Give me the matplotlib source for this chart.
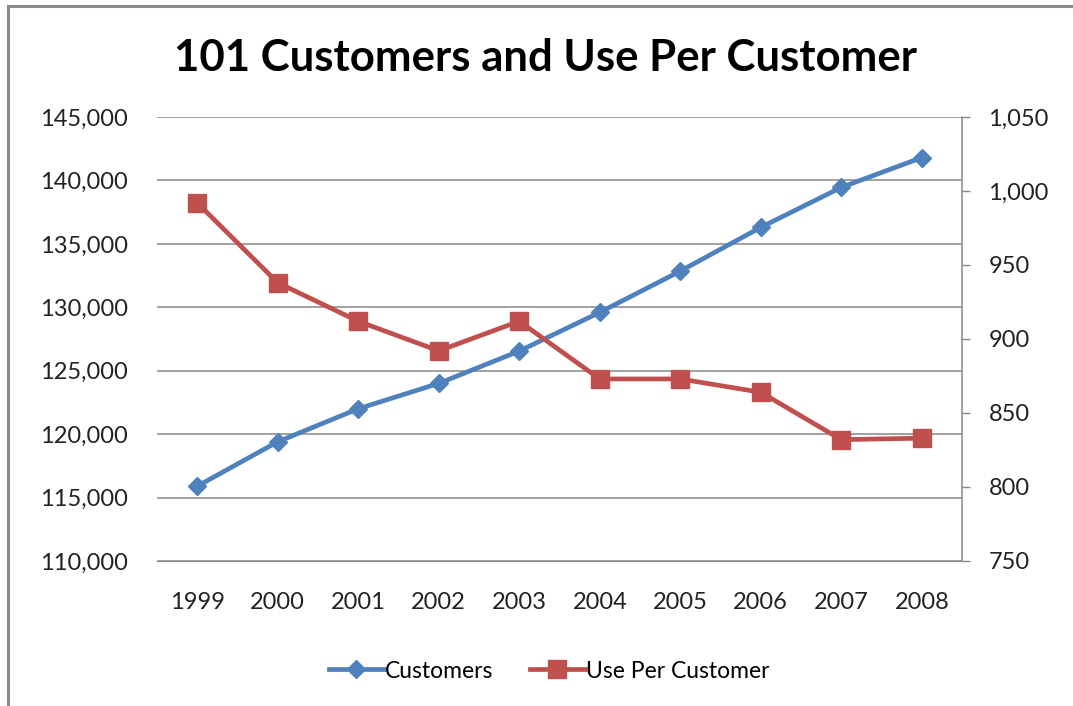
import matplotlib.pyplot as plt
from matplotlib.ticker import FuncFormatter
from matplotlib.lines import Line2D

years = ['1999', '2000', '2001', '2002', '2003', '2004', '2005', '2006', '2007', '2008']
customers = [115900, 119400, 122000, 124000, 126550, 129600, 132850, 136300, 139450, 141800]
use_per_customer = [992, 938, 912, 892, 912, 873, 873, 864, 832, 833]

blue = '#4F81BD'
red = '#C0504D'
grid_col = '#888888'
font = ['Lato', 'DejaVu Sans']

W, H = 1073, 706
fig = plt.figure(figsize=(W / 100, H / 100), dpi=100)

# chart frame (cut off on right/bottom in the reference)
fig.add_artist(Line2D([8 / W, 8 / W], [0, 1 - 6 / H], color='#8a8a8a', lw=2.2, transform=fig.transFigure))
fig.add_artist(Line2D([8 / W, 1], [1 - 6 / H, 1 - 6 / H], color='#8a8a8a', lw=2.2, transform=fig.transFigure))

left, right, top, bottom = 157, 962, 117, 561
ax = fig.add_axes([left / W, 1 - bottom / H, (right - left) / W, (bottom - top) / H])
ax2 = ax.twinx()

x = list(range(len(years)))

ax.plot(x, customers, color=blue, lw=3.4, marker='D', markersize=9, label='Customers', zorder=3)
ax2.plot(x, use_per_customer, color=red, lw=3.4, marker='s', markersize=12.5, label='Use Per Customer', zorder=3)

ax.set_xlim(-0.5, len(years) - 0.5)
ax.set_ylim(110000, 145000)
ax.set_yticks(range(110000, 145001, 5000))
ax.yaxis.set_major_formatter(FuncFormatter(lambda v, p: f'{int(v):,}'))
ax2.set_ylim(750, 1050)
ax2.set_yticks(range(750, 1051, 50))
ax2.yaxis.set_major_formatter(FuncFormatter(lambda v, p: f'{int(v):,}'))

ax.set_xticks(x)
ax.set_xticklabels(years)
ax.grid(axis='y', color=grid_col, lw=1.1)
ax.set_axisbelow(True)

for a in (ax, ax2):
    for s in a.spines.values():
        s.set_visible(False)
ax.spines['bottom'].set_visible(True)
ax.spines['bottom'].set_color(grid_col)
ax2.spines['right'].set_visible(True)
ax2.spines['right'].set_color(grid_col)
ax2.spines['right'].set_linewidth(1.1)

ax.tick_params(axis='x', length=0, pad=22, labelsize=17, labelcolor='#222222')
ax.tick_params(axis='y', length=0, pad=21, labelsize=17, labelcolor='#222222')
ax2.tick_params(axis='y', length=6, color=grid_col, width=1, pad=13, labelsize=17, labelcolor='#222222')
for lab in ax.get_xticklabels() + ax.get_yticklabels() + ax2.get_yticklabels():
    lab.set_family(font)

fig.text(545 / W, 1 - 58 / H, '101 Customers and Use Per Customer', ha='center', va='center',
         fontsize=31.5, fontweight='bold', family=font, color='black')

handles = ax.get_lines() + ax2.get_lines()
leg = fig.legend(handles, [h.get_label() for h in handles], loc='center', ncol=2,
                 bbox_to_anchor=(549 / W, 1 - 671 / H), frameon=False,
                 prop={'family': font, 'size': 16.5}, handlelength=2.4,
                 handletextpad=0.05, columnspacing=1.6)

fig.savefig('out.png', dpi=100, facecolor='white')
